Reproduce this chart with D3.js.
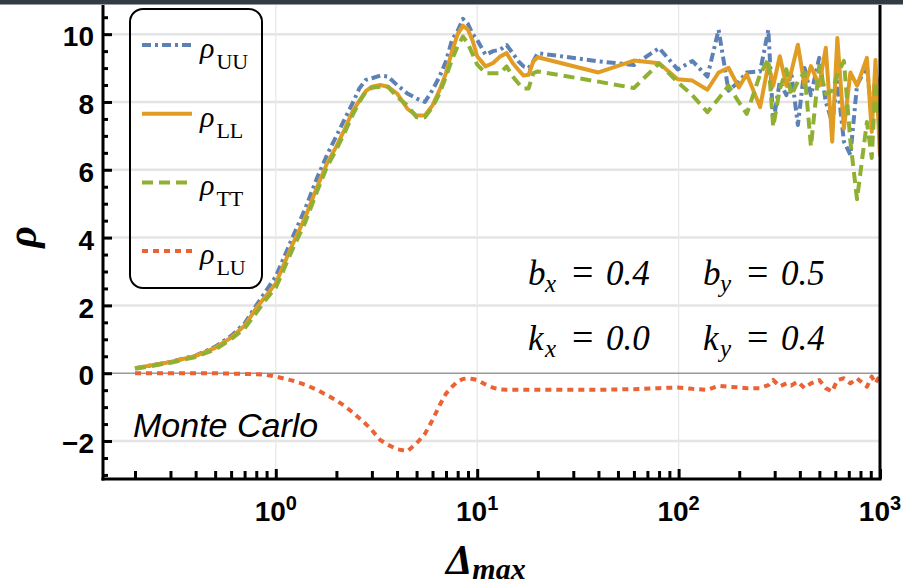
<!DOCTYPE html>
<html>
<head>
<meta charset="utf-8">
<script src="https://cdn.jsdelivr.net/npm/d3@7"></script>
<style>
  body { margin: 0; background: #fff; }
  svg { display: block; }
  .tick text { font-family: "Liberation Sans", Arial, sans-serif; font-weight: bold; font-size: 28px; fill: #000; }
</style>
</head>
<body>
<div class="chart"></div>
<script>
// Delta_max sample points (shared by the four series)
var deltaMax = [0.2, 0.3, 0.4, 0.5, 0.6, 0.7, 0.8, 0.9,
  1, 1.2, 1.4, 1.6, 1.8, 2, 2.2, 2.4, 2.6, 2.8,
  3, 3.3, 3.6, 4, 4.5, 5, 5.5, 6, 6.5, 7, 7.5, 8, 8.5, 9, 9.5,
  10, 11, 12, 13, 14, 15, 16, 17, 18, 19, 20, 40, 60, 80,
  99, 117, 139, 158, 177, 199, 218, 254, 279, 295,
  318, 343, 362, 391, 422, 454, 499, 538, 579, 614,
  662, 713, 769, 861, 910, 950, 1000];

var rhoUU = [0.15, 0.33, 0.52, 0.78, 1.1, 1.47, 2.0, 2.45,
  2.85, 3.95, 4.85, 5.75, 6.45, 7.0, 7.5, 7.95, 8.4, 8.65,
  8.7, 8.78, 8.75, 8.5, 8.25, 8.1, 8.0, 8.35, 8.75, 9.2, 9.83, 10.1, 10.45, 10.3, 10.0,
  9.83, 9.39, 9.5, 9.54, 9.68, 9.44, 9.2, 9.05, 9.0, 9.2, 9.44, 9.2, 9.09, 9.59,
  8.96, 9.21, 8.75, 10.13, 8.33, 8.6, 8.87, 8.9, 10.13, 7.4,
  8.6, 8.2, 8.9, 7.32, 9.0, 8.2, 9.3, 8.0, 7.4, 8.6,
  6.83, 6.44, 8.5, 9.06, 7.5, 8.8, 8.4];

var rhoLL = [0.15, 0.33, 0.51, 0.75, 1.05, 1.4, 1.92, 2.3,
  2.65, 3.75, 4.6, 5.48, 6.2, 6.69, 7.2, 7.71, 8.04, 8.32,
  8.45, 8.5, 8.45, 8.25, 7.8, 7.6, 7.6, 7.9, 8.35, 8.85, 9.5, 10.0, 10.25, 10.13, 9.8,
  9.35, 9.05, 9.15, 9.34, 9.44, 9.15, 8.95, 8.78, 8.8, 9.2, 9.32, 8.87, 9.22, 9.14,
  8.67, 8.63, 8.36, 8.87, 9.01, 8.43, 8.82, 7.85, 9.11, 8.48,
  9.35, 8.48, 8.87, 9.69, 8.48, 9.06, 8.48, 9.6, 6.83, 9.89,
  7.22, 8.87, 8.48, 9.3, 7.12, 9.24, 6.4];

var rhoTT = [0.13, 0.31, 0.48, 0.7, 1.0, 1.32, 1.78, 2.2,
  2.52, 3.6, 4.45, 5.35, 6.1, 6.6, 7.1, 7.6, 8.0, 8.3,
  8.42, 8.45, 8.45, 8.15, 7.9, 7.55, 7.55, 7.85, 8.25, 8.75, 9.25, 9.65, 9.93, 9.72, 9.4,
  9.1, 8.85, 8.85, 8.85, 9.05, 8.75, 8.55, 8.4, 8.4, 8.85, 8.9, 8.6, 8.41, 9.14,
  8.58, 8.2, 7.7, 8.1, 8.48, 8.0, 7.65, 8.82, 9.26, 7.27,
  8.38, 8.96, 8.19, 8.6, 8.87, 6.69, 9.06, 8.24, 8.33, 8.8,
  9.21, 6.83, 5.13, 7.41, 6.35, 8.6, 7.2];

var rhoLU = [0, 0, 0, 0, -0.01, -0.02, -0.03, -0.05,
  -0.1, -0.21, -0.34, -0.49, -0.65, -0.8, -0.97, -1.15, -1.33, -1.5,
  -1.68, -1.97, -2.11, -2.24, -2.3, -2.07, -1.79, -1.38, -0.95, -0.6, -0.4, -0.24, -0.17, -0.15, -0.17,
  -0.2, -0.33, -0.43, -0.48, -0.49, -0.49, -0.49, -0.49, -0.49, -0.49, -0.49, -0.49, -0.47, -0.44,
  -0.42, -0.46, -0.49, -0.37, -0.4, -0.42, -0.44, -0.44, -0.35, -0.2,
  -0.39, -0.3, -0.36, -0.25, -0.44, -0.3, -0.2, -0.44, -0.54, -0.2,
  -0.15, -0.3, -0.15, -0.4, -0.1, -0.3, -0.05];

var seriesNames = ["UU", "LL", "TT", "LU"];
var yMajorTicks = [-2, 0, 2, 4, 6, 8, 10];
var xMajorTicks = [1, 10, 100, 1000];
var xTickExponents = ["0", "1", "2", "3"];

// line styles, same order as seriesNames
var seriesColors = ["#5e81b5", "#e19c24", "#8fb032", "#eb6235"];
var seriesDashes = ["9,4,3,4", null, "11,6", "6,5"];

var svgWidth = 903;
var svgHeight = 584;

var svg = d3.select(".chart")
  .append("svg")
  .attr("width", svgWidth)
  .attr("height", svgHeight);

// scales
var xScale = d3.scaleLog()
  .domain([0.1387, 1000])
  .range([103, 880]);

var yScale = d3.scaleLinear()
  .domain([-3.12, 10.86])
  .range([479, 5]);

var plotLeft = xScale.range()[0], plotRight = xScale.range()[1];
var plotTop = yScale.range()[1], plotBottom = yScale.range()[0];

// dark strip along the top edge
svg.append("rect")
  .attr("x", 0).attr("y", 0)
  .attr("width", svgWidth).attr("height", 4.5)
  .attr("fill", "#323a44");

// grid lines
svg.append("g").selectAll("line")
  .data(yMajorTicks.filter(d => d !== 0))
  .enter().append("line")
  .attr("x1", plotLeft).attr("x2", plotRight)
  .attr("y1", d => yScale(d)).attr("y2", d => yScale(d))
  .attr("stroke", "#e4e4e4")
  .attr("stroke-width", 2.5);

svg.append("g").selectAll("line")
  .data(xMajorTicks.slice(0, 3))
  .enter().append("line")
  .attr("x1", d => xScale(d)).attr("x2", d => xScale(d))
  .attr("y1", plotTop).attr("y2", plotBottom)
  .attr("stroke", "#e8e8e8")
  .attr("stroke-width", 1.3);

// zero line
svg.append("line")
  .attr("x1", plotLeft).attr("x2", plotRight)
  .attr("y1", yScale(0)).attr("y2", yScale(0))
  .attr("stroke", "#999")
  .attr("stroke-width", 1.5);

// curves
svg.append("clipPath").attr("id", "plotClip")
  .append("rect")
  .attr("x", plotLeft).attr("y", plotTop)
  .attr("width", plotRight - plotLeft).attr("height", plotBottom - plotTop);

var allSeries = [rhoUU, rhoLL, rhoTT, rhoLU];

var line = d3.line()
  .x((d, i) => xScale(deltaMax[i]))
  .y(d => yScale(d));

var curveGroup = svg.append("g").attr("clip-path", "url(#plotClip)");

curveGroup.selectAll("path")
  .data(allSeries)
  .enter().append("path")
  .attr("d", d => line(d))
  .attr("fill", "none")
  .attr("stroke", (d, i) => seriesColors[i])
  .attr("stroke-width", 4)
  .attr("stroke-linejoin", "round")
  .attr("stroke-dasharray", (d, i) => seriesDashes[i]);

// y axis ticks (inside)
var yMinor = d3.range(-3, 10.6, 0.5).filter(d => yMajorTicks.indexOf(d) < 0);

svg.append("g")
  .attr("transform", `translate(${plotLeft}, 0)`)
  .call(d3.axisLeft(yScale).tickValues(yMinor).tickSize(-5).tickFormat(""))
  .call(g => g.select(".domain").remove());

var yAxis = svg.append("g")
  .attr("transform", `translate(${plotLeft}, 0)`)
  .call(d3.axisLeft(yScale).tickValues(yMajorTicks).tickSize(-9).tickPadding(9)
    .tickFormat(d => d < 0 ? "\u2212" + Math.abs(d) : d))
  .call(g => g.select(".domain").remove());

yAxis.selectAll("text").attr("dy", "0.42em");

// x axis ticks (inside)
var xMinor = [];
[0.1, 1, 10, 100].forEach(function(dec) {
  for (var k = 2; k <= 9; k++) xMinor.push(dec * k);
});

svg.append("g")
  .attr("transform", `translate(0, ${plotBottom})`)
  .call(d3.axisBottom(xScale).tickValues(xMinor).tickSize(-8).tickFormat(""))
  .call(g => g.select(".domain").remove());

svg.append("g")
  .attr("transform", `translate(0, ${plotBottom})`)
  .call(d3.axisBottom(xScale).tickValues(xMajorTicks).tickSize(-10).tickFormat(""))
  .call(g => g.select(".domain").remove());

svg.selectAll(".tick line")
  .attr("stroke", "#000")
  .attr("stroke-width", 3);

// x tick labels 10^n
var xLabels = svg.append("g").selectAll("text")
  .data(xMajorTicks)
  .enter().append("text")
  .attr("x", d => xScale(d))
  .attr("y", 521)
  .attr("text-anchor", "middle")
  .style("font-family", "'Liberation Sans', Arial, sans-serif")
  .style("font-weight", "bold")
  .style("font-size", "28px");

xLabels.append("tspan").text("10");
xLabels.append("tspan")
  .attr("dy", -11)
  .style("font-size", "20px")
  .text((d, i) => xTickExponents[i]);

// frame
svg.append("line")
  .attr("x1", plotLeft).attr("x2", plotLeft)
  .attr("y1", plotTop).attr("y2", plotBottom + 1.5)
  .attr("stroke", "#000").attr("stroke-width", 3);

svg.append("line")
  .attr("x1", plotLeft - 1.5).attr("x2", plotRight + 1.5)
  .attr("y1", plotBottom).attr("y2", plotBottom)
  .attr("stroke", "#000").attr("stroke-width", 3);

svg.append("line")
  .attr("x1", plotRight).attr("x2", plotRight)
  .attr("y1", plotTop).attr("y2", plotBottom)
  .attr("stroke", "#000").attr("stroke-width", 3);

// axis titles
svg.append("text")
  .attr("transform", "translate(36, 237) rotate(-90)")
  .attr("text-anchor", "middle")
  .style("font-family", "'Liberation Serif', 'Times New Roman', serif")
  .style("font-weight", "bold")
  .style("font-style", "italic")
  .style("font-size", "42px")
  .text("\u03c1");

var xTitle = svg.append("text")
  .attr("x", 446)
  .attr("y", 574)
  .style("font-family", "'Liberation Serif', 'Times New Roman', serif")
  .style("font-weight", "bold")
  .style("font-style", "italic")
  .style("font-size", "42px");

xTitle.append("tspan").text("\u0394");
xTitle.append("tspan").attr("dy", 5).style("font-size", "30px").text("max");

// legend
svg.append("rect")
  .attr("x", 130).attr("y", 9)
  .attr("width", 132).attr("height", 279)
  .attr("rx", 13)
  .attr("fill", "none")
  .attr("stroke", "#000")
  .attr("stroke-width", 2);

var legendRows = svg.append("g").selectAll("g")
  .data(seriesNames)
  .enter().append("g")
  .attr("transform", (d, i) => `translate(0, ${45 + i * 68.7})`);

legendRows.append("line")
  .attr("x1", 142).attr("x2", 192)
  .attr("y1", 0).attr("y2", 0)
  .attr("stroke", (d, i) => seriesColors[i])
  .attr("stroke-width", 4)
  .attr("stroke-dasharray", (d, i) => seriesDashes[i]);

var legendText = legendRows.append("text")
  .attr("x", 200)
  .attr("y", 13)
  .style("font-family", "'Liberation Serif', 'Times New Roman', serif");

legendText.append("tspan")
  .style("font-size", "30px")
  .style("font-style", "italic")
  .text("\u03c1");
legendText.append("tspan")
  .attr("dy", 11)
  .attr("dx", 2)
  .style("font-size", "22px")
  .text(d => d);

// parameter annotations
function addParam(x, y, letter, sub, value) {
  var g = svg.append("g")
    .style("font-family", "'Liberation Serif', 'Times New Roman', serif")
    .style("font-style", "italic");
  g.append("text").attr("x", x).attr("y", y)
    .style("font-size", "35px").text(letter);
  g.append("text").attr("x", x + 17).attr("y", y + 7)
    .style("font-size", "25px").text(sub);
  g.append("text").attr("x", x + 44).attr("y", y)
    .style("font-size", "38px").style("font-style", "normal").text("=");
  g.append("text").attr("x", x + 78).attr("y", y)
    .style("font-size", "35px").text(value);
}

addParam(528, 285, "b", "x", "0.4");
addParam(703, 285, "b", "y", "0.5");
addParam(528, 350, "k", "x", "0.0");
addParam(703, 350, "k", "y", "0.4");

svg.append("text")
  .attr("x", 133)
  .attr("y", 437)
  .style("font-family", "'Liberation Sans', Arial, sans-serif")
  .style("font-style", "italic")
  .style("font-size", "34px")
  .text("Monte Carlo");
</script>
</body>
</html>
